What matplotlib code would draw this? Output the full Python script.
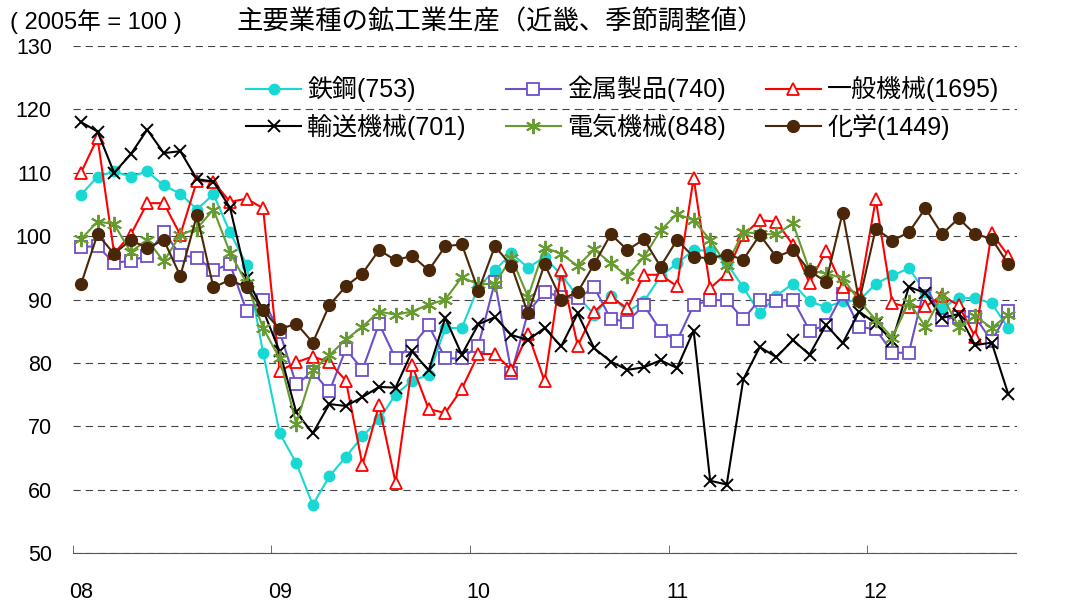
import matplotlib
matplotlib.use("Agg")
import matplotlib.pyplot as plt
import numpy as np

plt.rcParams['font.family'] = ['Liberation Sans', 'Noto Sans CJK JP']

# monthly, 2008/01 - 2012/09 (2005 = 100)
steel = [106.5, 109.4, 110.2, 109.4, 110.2, 108.0, 106.7, 104.2, 106.6, 100.6, 95.5, 81.6,
         68.9, 64.2, 57.6, 62.1, 65.2, 68.4, 71.1, 75.0, 77.2, 78.1, 85.5, 85.5,
         92.0, 94.6, 97.3, 95.0, 96.7, 93.9, 90.5, 87.6, 90.6, 88.1, 89.7, 93.7,
         95.7, 97.8, 97.7, 95.7, 91.9, 87.8, 90.6, 92.5, 89.7, 88.8, 89.7, 89.8,
         92.5, 93.8, 94.9, 91.2, 88.6, 90.3, 90.2, 89.4, 85.5]
metal = [98.3, 98.4, 95.8, 96.1, 96.9, 100.7, 97.0, 96.6, 94.6, 95.6, 88.2, 89.9,
         84.9, 76.6, 78.6, 75.5, 82.2, 78.9, 86.2, 80.7, 82.7, 85.9, 80.7, 80.7,
         82.7, 92.8, 78.4, 88.0, 91.2, 90.4, 90.2, 91.9, 86.9, 86.5, 89.1, 85.1,
         83.5, 89.1, 89.9, 89.9, 86.9, 90.0, 89.8, 90.0, 85.1, 85.9, 90.9, 85.7,
         85.3, 81.6, 81.6, 92.5, 86.8, 87.3, 87.3, 83.4, 88.2]
general = [110.0, 115.5, 97.3, 100.2, 105.2, 105.2, 100.2, 108.7, 108.6, 105.4, 105.9, 104.4,
           78.7, 80.1, 81.0, 80.1, 77.2, 63.9, 73.3, 61.1, 79.6, 72.7, 72.1, 75.9,
           81.4, 81.4, 78.9, 84.6, 77.1, 94.6, 82.7, 88.1, 90.4, 88.6, 93.9, 93.9,
           92.1, 109.2, 91.8, 94.1, 100.2, 102.5, 102.3, 98.6, 92.6, 97.7, 92.0, 90.8,
           105.8, 89.4, 88.8, 88.9, 90.6, 89.1, 84.1, 100.5, 96.9]
transport = [118.0, 116.5, 110.0, 112.9, 116.8, 113.1, 113.4, 109.0, 108.6, 104.5, 93.4, 88.3,
             81.8, 72.2, 68.9, 73.5, 73.2, 74.6, 76.2, 76.1, 81.8, 78.8, 87.1, 81.3,
             86.1, 87.2, 84.4, 83.6, 85.5, 82.6, 87.8, 82.3, 80.2, 78.9, 79.3, 80.4,
             79.2, 85.1, 61.4, 60.8, 77.4, 82.5, 80.9, 83.6, 81.3, 86.0, 83.1, 88.1,
             86.2, 83.5, 92.0, 91.0, 87.1, 87.7, 82.8, 83.2, 75.1]
electric = [99.5, 102.3, 101.9, 97.5, 99.4, 96.0, 100.2, 101.2, 104.2, 97.4, 92.6, 85.5,
            80.7, 70.4, 78.8, 81.2, 83.7, 85.7, 88.1, 87.6, 88.1, 89.2, 90.0, 93.5,
            92.4, 92.5, 96.6, 90.4, 98.2, 97.2, 95.3, 97.9, 95.7, 93.7, 96.7, 100.9,
            103.5, 102.5, 99.4, 95.4, 100.7, 100.3, 100.3, 102.0, 94.6, 94.1, 93.4, 89.8,
            86.8, 84.0, 89.6, 85.7, 90.7, 85.7, 87.4, 85.5, 87.6]
chemical = [92.4, 100.3, 97.2, 99.4, 98.1, 99.4, 93.7, 103.3, 91.9, 93.1, 91.9, 88.3,
            85.3, 86.2, 83.2, 89.1, 92.1, 94.1, 97.8, 96.2, 96.9, 94.6, 98.4, 98.7,
            91.4, 98.4, 95.3, 87.8, 95.6, 90.0, 91.2, 95.6, 100.3, 97.8, 99.5, 95.2,
            99.4, 96.7, 96.5, 97.1, 96.3, 100.2, 96.7, 97.8, 94.5, 92.8, 103.7, 89.7,
            101.2, 99.3, 100.6, 104.4, 100.3, 102.8, 100.3, 99.6, 95.6]

year_labels = ['08', '09', '10', '11', '12']

months = np.arange(len(steel))

fig = plt.figure(figsize=(10.7, 6.03), dpi=100)
ax = fig.add_axes([72.7 / 1070, 50 / 603, (1016.5 - 72.7) / 1070, 507 / 603])

l_steel, = ax.plot(months, steel, color='#18D8D3', lw=1.5, marker='o', ms=7.5,
                   label='鉄鋼(753)')
l_metal, = ax.plot(months, metal, color='#6E4FCB', lw=1.5, marker='s', ms=8,
                   mfc='white', mew=1.3, label='金属製品(740)')
l_gen, = ax.plot(months, general, color='#FF0000', lw=1.5, marker='^', ms=9,
                 mfc='white', mew=1.3, label='一般機械(1695)')
l_trans, = ax.plot(months, transport, color='black', lw=1.5, marker='x', ms=9,
                   mew=1.4, label='輸送機械(701)')
l_elec, = ax.plot(months, electric, color='#679A2F', lw=1.5, marker=(6, 2, 0), ms=11,
                  mew=1.4, label='電気機械(848)')
l_chem, = ax.plot(months, chemical, color='#4A2708', lw=1.5, marker='o', ms=8.5,
                  label='化学(1449)')

ax.set_xlim(-0.5, len(steel) - 0.5)
ax.set_ylim(50, 130)
ax.set_yticks(np.arange(50, 131, 10))
ax.yaxis.grid(True, linestyle=(0, (6.5, 4.5)), color='#444444', lw=0.8)
ax.set_axisbelow(True)

ax.set_xticks(np.arange(0, len(steel), 12))
ax.set_xticklabels(year_labels)
ax.set_xticks(np.arange(-0.5, len(steel), 12), minor=True)
ax.tick_params(axis='x', which='major', length=0, pad=21, labelsize=15.5)
ax.tick_params(axis='x', which='minor', direction='in', length=6, color='#555555')
ax.tick_params(axis='y', length=0, pad=15, labelsize=15.5)

for s in ['top', 'right', 'left']:
    ax.spines[s].set_visible(False)
ax.spines['bottom'].set_color('#555555')

handles = [l_steel, l_trans, l_metal, l_elec, l_gen, l_chem]
fig.legend(handles, [h.get_label() for h in handles], ncol=3, loc='upper left',
           bbox_to_anchor=(246 / 1070, 1 - 76 / 603), frameon=False, fontsize=18,
           handlelength=2.2, handletextpad=0.25, columnspacing=1.6,
           labelspacing=0.45, borderaxespad=0, borderpad=0)

fig.text(10 / 1070, 1 - 22 / 603, '( 2005年 = 100 )', fontsize=17, va='center')
fig.text(237 / 1070, 1 - 22 / 603, '主要業種の鉱工業生産（近畿、季節調整値）',
         fontsize=19, va='center')

fig.savefig('out.png', dpi=100)
